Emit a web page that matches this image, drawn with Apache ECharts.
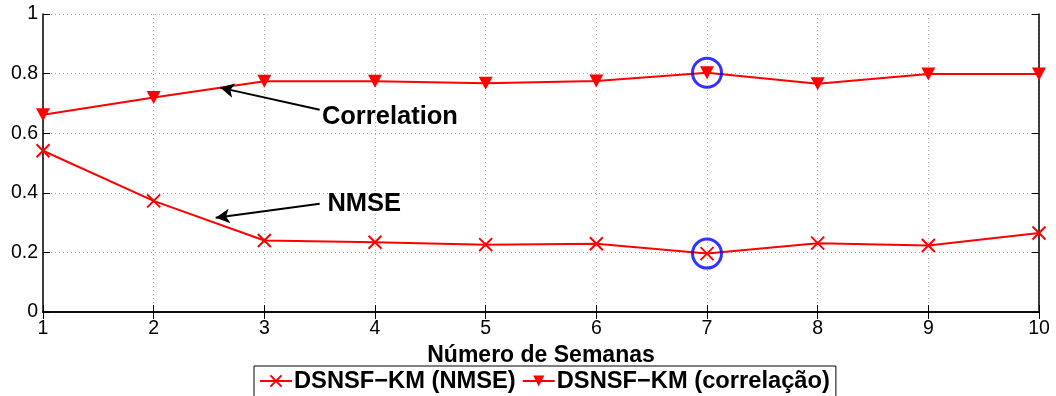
<!DOCTYPE html>
<html><head><meta charset="utf-8">
<script src="https://cdn.jsdelivr.net/npm/echarts@6/dist/echarts.min.js"></script>
<style>html,body{margin:0;padding:0;background:#fff}#c{width:1056px;height:396px}</style>
</head><body><div id="c"></div>
<script>
const weeks = [1,2,3,4,5,6,7,8,9,10];
const nmse = [0.541,0.373,0.240,0.234,0.226,0.229,0.196,0.231,0.223,0.265];
const corr = [0.662,0.720,0.774,0.774,0.768,0.775,0.803,0.766,0.799,0.799];
const yTicks = [0,0.2,0.4,0.6,0.8,1];
const highlightWeek = 7;
const annotations = [
  {text:'Correlation', from:[3.50,0.679], to:[2.60,0.753], label:[3.52,0.655]},
  {text:'NMSE', from:[3.50,0.363], to:[2.56,0.316], label:[3.57,0.362]}
];
const F = '"Liberation Sans", Arial, Helvetica, sans-serif';
const chart = echarts.init(document.getElementById('c'));
const xMark = 'path://M0,0L10,10M10,0L0,10';
const hi = weeks.indexOf(highlightWeek);
const option = {
  animation:false,
  textStyle:{fontFamily:F},
  grid:{left:43,right:17,top:14,bottom:84,show:false},
  xAxis:[{
    type:'value',min:1,max:10,interval:1,
    name:'Número de Semanas',nameLocation:'middle',nameGap:26,
    nameTextStyle:{fontFamily:F,fontSize:23,fontWeight:'bold',color:'#000',verticalAlign:'top'},
    axisLine:{lineStyle:{color:'#000',width:1.5}},
    axisTick:{inside:true,length:7,lineStyle:{color:'#000',width:1}},
    axisLabel:{fontFamily:F,fontSize:19.5,color:'#000',margin:7},
    splitLine:{show:true,lineStyle:{color:'#aaa',type:[1,3],width:1}}
  },{
    type:'value',min:1,max:10,interval:1,position:'top',
    axisLine:{lineStyle:{color:'#000',width:1.5}},
    axisTick:{inside:true,length:7,lineStyle:{color:'#000'}},
    axisLabel:{show:false},splitLine:{show:false}
  }],
  yAxis:[{
    type:'value',min:0,max:1,interval:0.2,
    axisLine:{show:true,lineStyle:{color:'#000',width:1.5}},
    axisTick:{show:true,inside:true,length:7,lineStyle:{color:'#000'}},
    axisLabel:{fontFamily:F,fontSize:19.5,color:'#000',margin:5,
      formatter:v=>String(yTicks.find(t=>Math.abs(t-v)<1e-9) ?? v)},
    splitLine:{show:true,lineStyle:{color:'#aaa',type:[1,3],width:1}}
  },{
    type:'value',min:0,max:1,interval:0.2,position:'right',
    axisLine:{show:true,lineStyle:{color:'#000',width:1.5}},
    axisTick:{show:true,inside:true,length:7,lineStyle:{color:'#000'}},
    axisLabel:{show:false},splitLine:{show:false}
  }],
  legend:{
    left:254,top:366,
    data:['DSNSF\u2212KM (NMSE)','DSNSF\u2212KM (correlação)'],
    borderColor:'#000',borderWidth:1,borderRadius:0,
    padding:[3,6,12,5],itemGap:6,itemWidth:32,itemHeight:14,
    textStyle:{fontFamily:F,fontSize:23.7,fontWeight:'bold',color:'#000',padding:[0,0,0,-3]}
  },
  series:[
    {name:'DSNSF\u2212KM (NMSE)',type:'line',data:weeks.map((w,i)=>[w,nmse[i]]),
      symbol:xMark,symbolSize:13,showAllSymbol:true,
      lineStyle:{color:'#ff0000',width:2},
      itemStyle:{color:'#ff0000',borderColor:'#ff0000',borderWidth:2},
      z:3,
      markLine:{silent:true,symbol:['none','arrow'],symbolSize:[11,14],
        lineStyle:{color:'#000',width:2,type:'solid'},label:{show:false},
        data:annotations.map(a=>[{coord:a.from},{coord:a.to}])}
    },
    {name:'DSNSF\u2212KM (correlação)',type:'line',data:weeks.map((w,i)=>[w,corr[i]]),
      symbol:'triangle',symbolRotate:180,symbolSize:[14,13],showAllSymbol:true,
      lineStyle:{color:'#ff0000',width:2},
      itemStyle:{color:'#ff0000'},z:3},
    {type:'scatter',data:[[highlightWeek,nmse[hi]],[highlightWeek,corr[hi]]],
      symbol:'circle',symbolSize:29,
      itemStyle:{color:'rgba(0,0,0,0)',borderColor:'#0000ff',borderWidth:3},z:4,silent:true}
  ]
};
chart.setOption(option);
const g = annotations.map(a=>{
  const p = chart.convertToPixel({gridIndex:0},a.label);
  return {type:'text',x:p[0],y:p[1],style:{text:a.text,fontFamily:F,fontSize:25.5,fontWeight:'bold',fill:'#000',verticalAlign:'middle'}};
});
chart.setOption({graphic:g});
</script></body></html>
